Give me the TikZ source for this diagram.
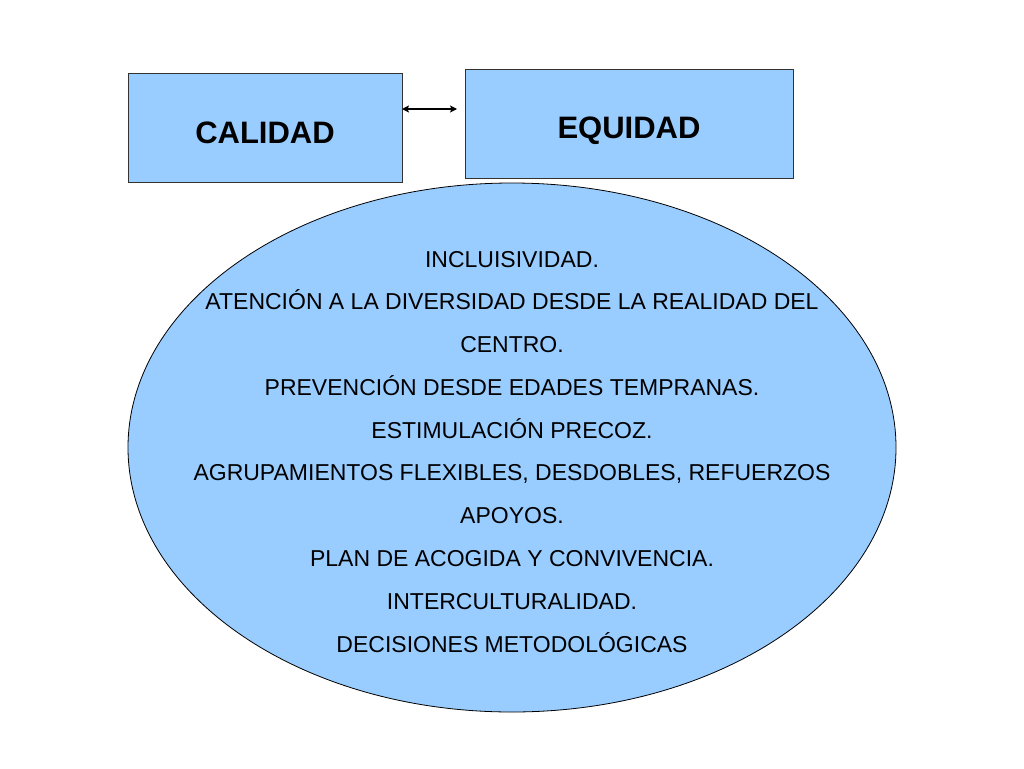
\documentclass[tikz,border=0pt]{standalone}
\usepackage{fontspec}
\setmainfont{Liberation Sans}
\usetikzlibrary{shapes.geometric,arrows.meta}
\definecolor{celeste}{HTML}{99CCFF}
\tikzset{
  caja/.style={draw=black!80,fill=celeste,line width=0.8pt,inner sep=0pt,font=\fontsize{31}{33}\selectfont\bfseries,text depth=0pt},
  linea/.style={inner sep=0pt,text height=16pt,text depth=0pt,font=\fontsize{23}{27}\selectfont}
}
\begin{document}
\begin{tikzpicture}[x=1pt,y=-1pt]
  \useasboundingbox (0,0) rectangle (1024,768);
    \node[caja,minimum width=274pt,minimum height=109pt,text height=31pt] at (265,127.5) (cal) {CALIDAD};
    \node[caja,minimum width=328pt,minimum height=109pt,text height=30pt] at (629,123.5) (equ) {EQUIDAD};
    \coordinate (a1) at (402,109);
    \coordinate (a2) at (457,109);
    \draw[{Stealth[length=7pt,width=7pt,inset=1.5pt]}-{Stealth[length=7pt,width=7pt,inset=1.5pt]},line width=1.2pt] (a1)--(a2);
    \node[ellipse,draw=black,fill=celeste,line width=0.8pt,minimum width=768pt,minimum height=529pt,inner sep=0pt] at (512,447.5) (elipse) {};
    \foreach \t [count=\i from 0] in {{INCLUISIVIDAD.},{ATENCIÓN A LA DIVERSIDAD DESDE LA REALIDAD DEL},{CENTRO.},{PREVENCIÓN DESDE EDADES TEMPRANAS.},{ESTIMULACIÓN PRECOZ.},{AGRUPAMIENTOS FLEXIBLES, DESDOBLES, REFUERZOS},{APOYOS.},{PLAN DE ACOGIDA Y CONVIVENCIA.},{INTERCULTURALIDAD.},{DECISIONES METODOLÓGICAS}}{
        \node[linea] at (512,{259+42.78*\i}) (l\i) {\t};
    }
\end{tikzpicture}
\end{document}
